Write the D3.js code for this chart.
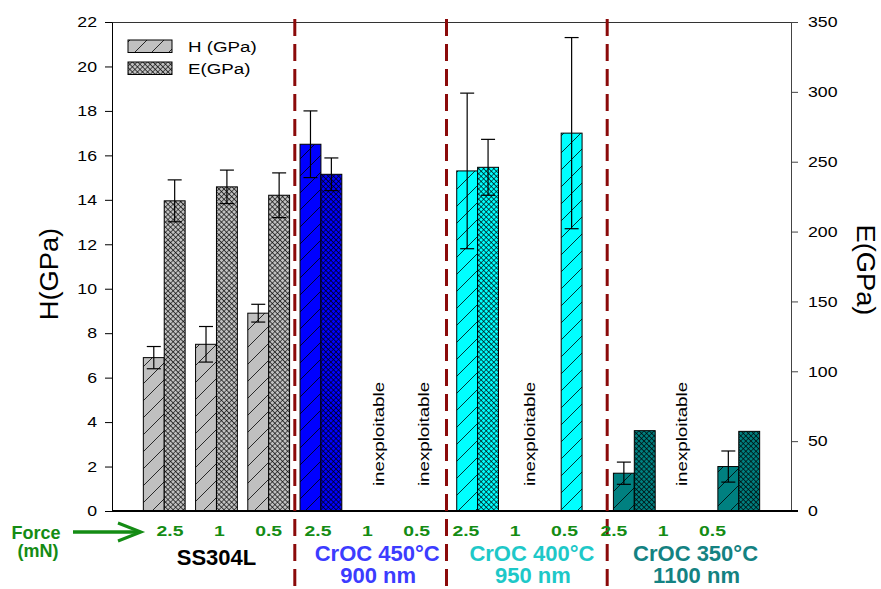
<!DOCTYPE html>
<html>
<head>
<meta charset="utf-8">
<script src="https://cdn.jsdelivr.net/npm/d3@7"></script>
<style>
  html, body { margin: 0; padding: 0; background: #fff; }
  svg { display: block; font-family: "Liberation Sans", Arial, sans-serif; }
</style>
</head>
<body>
<svg id="chart" width="881" height="589"></svg>
<script>
// ---------------- DATA ----------------
const forceLabels = ["2.5","1","0.5","2.5","1","0.5","2.5","1","0.5","2.5","1","0.5"];
const sampleOfCategory = [0,0,0,1,1,1,2,2,2,3,3,3];
const sampleNames = ["SS304L","CrOC 450°C","CrOC 400°C","CrOC 350°C"];
const sampleThickness = ["","900 nm","950 nm","1100 nm"];
const hValues = [6.9, 7.5, 8.9, 16.5, null, null, 15.3, null, 17.0, 1.7, null, 2.0];
const hErrors = [0.5, 0.8, 0.4, 1.5, null, null, 3.5, null, 4.3, 0.5, null, 0.7];
const eValues = [222, 232, 226, 241, null, null, 246, null, null, 57.5, null, 57];
const eErrors = [15, 12, 16, 11.7, null, null, 20, null, null, null, null, null];
const notes = ["","","","","inexploitable","inexploitable","","inexploitable","","","inexploitable",""];
const hTicks = [0,2,4,6,8,10,12,14,16,18,20,22];
const eTicks = [0,50,100,150,200,250,300,350];
const legendLabels = ["H (GPa)", "E(GPa)"];

// ---------------- STYLE / LAYOUT ----------------
const sampleFill = ["#c0c0c0", "#0000ff", "#00ffff", "#008080"];
const sampleText = ["#000000", "#3c3cff", "#1ec8c8", "#148282"];
const green = "#148c14";
const sepColor = "#8b0a0a";
const font = '"Liberation Sans", Arial, sans-serif';

const L = 112, R = 791, T = 22, B = 511;
const svg = d3.select("#chart");
const defs = svg.append("defs");

// patterns
sampleFill.forEach((c, i) => {
  const h = defs.append("pattern").attr("id", "hatch" + i)
    .attr("patternUnits", "userSpaceOnUse").attr("width", 17).attr("height", 17);
  h.append("rect").attr("width", 17).attr("height", 17).attr("fill", c);
  h.append("path").attr("d", "M0,17 L17,0 M-4,4 L4,-4 M13,21 L21,13")
    .attr("stroke", "#000").attr("stroke-width", 0.8).attr("fill", "none");

  const x = defs.append("pattern").attr("id", "cross" + i)
    .attr("patternUnits", "userSpaceOnUse").attr("width", 3.6).attr("height", 3.6)
    .attr("patternTransform", "rotate(45)");
  x.append("rect").attr("width", 3.6).attr("height", 3.6).attr("fill", c);
  x.append("path").attr("d", "M0,0 H3.6 M0,0 V3.6")
    .attr("stroke", "#000").attr("stroke-width", 1.15).attr("fill", "none");
});

// scales
const x = d3.scaleBand().domain(d3.range(forceLabels.length))
  .range([L, R]).paddingInner(0.2).paddingOuter(0.6);
const xs = d3.scaleBand().domain(["H", "E"]).range([0, x.bandwidth()]);
const yH = d3.scaleLinear().domain([0, 22]).range([B, T]);
const yE = d3.scaleLinear().domain([0, 350]).range([B, T]);
const forceX = d3.scaleLinear().domain([0, forceLabels.length - 1]).range([170, 712.5]);

function txt(g, px, py, s, o) {
  const sx = o.sx || 1, rot = o.rot || 0;
  return g.append("text")
    .attr("transform", `translate(${px},${py}) rotate(${rot}) scale(${sx},1)`)
    .attr("text-anchor", o.anchor || "middle")
    .attr("font-size", o.size)
    .attr("font-weight", o.bold ? "bold" : "normal")
    .attr("fill", o.color || "#000")
    .attr("font-family", font)
    .text(s);
}

// frame top line
svg.append("line").attr("x1", L).attr("x2", R).attr("y1", T + 0.5).attr("y2", T + 0.5)
  .attr("stroke", "#333").attr("stroke-width", 1);

// axes
const axL = svg.append("g").attr("transform", `translate(${L},0)`)
  .call(d3.axisLeft(yH).tickValues(hTicks).tickSize(7).tickSizeOuter(0));
axL.select(".domain").attr("stroke", "#000");
axL.selectAll(".tick line").attr("stroke", "#000");
axL.selectAll(".tick text").attr("x", 0).attr("font-size", 15).attr("font-family", font)
  .attr("fill", "#000").attr("transform", "translate(-15,0) scale(1.18,1)");

const axR = svg.append("g").attr("transform", `translate(${R},0)`)
  .call(d3.axisRight(yE).tickValues(eTicks).tickSize(7).tickSizeOuter(0));
axR.select(".domain").attr("stroke", "#444");
axR.selectAll(".tick line").attr("stroke", "#444");
axR.selectAll(".tick text").attr("x", 0).attr("font-size", 15).attr("font-family", font)
  .attr("fill", "#000").attr("transform", "translate(17,0) scale(1.18,1)");

// bars
const cats = d3.range(forceLabels.length);
const gb = svg.append("g");
cats.forEach(i => {
  const s = sampleOfCategory[i];
  if (hValues[i] != null) {
    gb.append("rect").attr("x", x(i) + xs("H")).attr("width", xs.bandwidth())
      .attr("y", yH(hValues[i])).attr("height", yH(0) - yH(hValues[i]))
      .attr("fill", `url(#hatch${s})`).attr("stroke", "#000").attr("stroke-width", 1);
  }
  if (eValues[i] != null) {
    gb.append("rect").attr("x", x(i) + xs("E")).attr("width", xs.bandwidth())
      .attr("y", yE(eValues[i])).attr("height", yE(0) - yE(eValues[i]))
      .attr("fill", `url(#cross${s})`).attr("stroke", "#000").attr("stroke-width", 1);
  }
});

// error bars
const ge = svg.append("g").attr("stroke", "#000").attr("stroke-width", 1.2);
function errBar(cx, y1, y2) {
  ge.append("line").attr("x1", cx).attr("x2", cx).attr("y1", y1).attr("y2", y2);
  ge.append("line").attr("x1", cx - 7).attr("x2", cx + 7).attr("y1", y1).attr("y2", y1);
  ge.append("line").attr("x1", cx - 7).attr("x2", cx + 7).attr("y1", y2).attr("y2", y2);
}
cats.forEach(i => {
  if (hValues[i] != null && hErrors[i] != null) {
    const cx = x(i) + xs("H") + xs.bandwidth() / 2;
    errBar(cx, yH(hValues[i] + hErrors[i]), yH(hValues[i] - hErrors[i]));
  }
  if (eValues[i] != null && eErrors[i] != null) {
    const cx = x(i) + xs("E") + xs.bandwidth() / 2;
    errBar(cx, yE(eValues[i] + eErrors[i]), yE(eValues[i] - eErrors[i]));
  }
});

// bottom axis line
svg.append("line").attr("x1", L).attr("x2", R + 7).attr("y1", B).attr("y2", B)
  .attr("stroke", "#000").attr("stroke-width", 2);

// inexploitable notes
const noteDx = [0,0,0,0,11,4,0,5,0,0,0,0];
cats.forEach(i => {
  if (notes[i]) {
    const cx = x(i) + x.bandwidth() / 2;
    txt(svg, cx + noteDx[i], 434, notes[i], { size: 15, sx: 1.25, rot: -90 });
  }
});

// separators
const sepAdjust = [0, -5, -1];
[3, 6, 9].forEach((i, k) => {
  const sx = x(i) - (x.step() - x.bandwidth()) / 2 + sepAdjust[k];
  svg.append("line").attr("x1", sx).attr("x2", sx).attr("y1", 19).attr("y2", 589)
    .attr("stroke", sepColor).attr("stroke-width", 3).attr("stroke-dasharray", "17,8");
});

// legend
const lg = svg.append("g");
legendLabels.forEach((lab, k) => {
  const yTop = k === 0 ? 40 : 62;
  lg.append("rect").attr("x", 128).attr("y", yTop).attr("width", 44).attr("height", 12.5)
    .attr("fill", k === 0 ? "url(#hatch0)" : "url(#cross0)").attr("stroke", "#000").attr("stroke-width", 1);
  txt(lg, 188, yTop + 12, lab, { size: 15, sx: 1.25, anchor: "start" });
});

// axis titles
txt(svg, 58, 274, "H(GPa)", { size: 25, sx: 1.09, rot: -90 });
txt(svg, 857, 270, "E(GPa)", { size: 25, sx: 1.09, rot: 90 });

// force labels
cats.forEach(i => {
  txt(svg, forceX(i), 536, forceLabels[i], { size: 15.5, bold: true, sx: 1.25, color: green });
});
txt(svg, 36, 539, "Force", { size: 18, bold: true, color: green });
txt(svg, 38, 557, "(mN)", { size: 18, bold: true, color: green });
svg.append("line").attr("x1", 73).attr("x2", 140).attr("y1", 532).attr("y2", 532)
  .attr("stroke", green).attr("stroke-width", 3.5);
svg.append("path").attr("d", "M118,523 L141,532 L118,541")
  .attr("stroke", green).attr("stroke-width", 3).attr("fill", "none");

// sample labels
const labelDx = [0, 4, 2, 9];
sampleNames.forEach((name, g) => {
  const mid = x(3 * g + 1) + x.bandwidth() / 2 + labelDx[g];
  txt(svg, mid, g === 0 ? 565 : 561, name, { size: 22, bold: true, color: sampleText[g] });
  if (sampleThickness[g]) {
    txt(svg, mid + 1, 583, sampleThickness[g], { size: 22, bold: true, color: sampleText[g] });
  }
});
</script>
</body>
</html>
